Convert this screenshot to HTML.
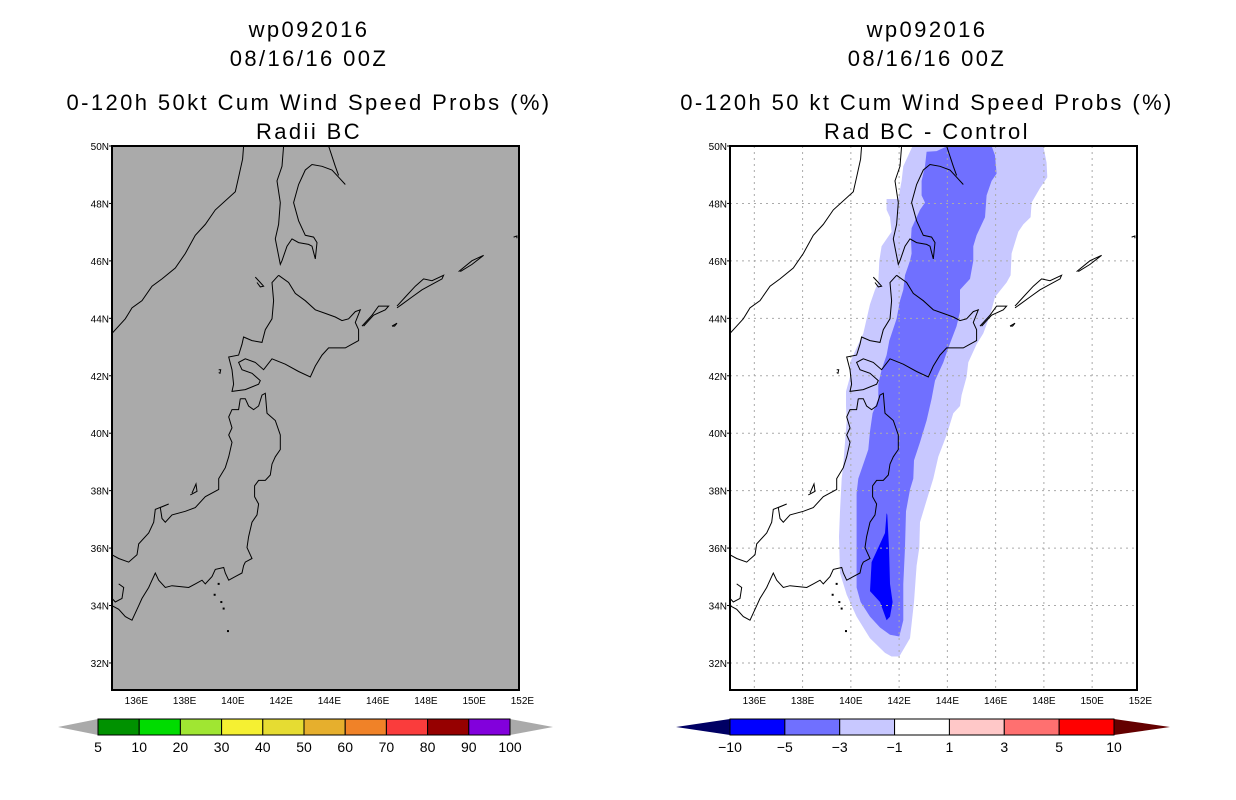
<!DOCTYPE html>
<html><head><meta charset="utf-8"><style>
body{margin:0;background:#fff;width:1236px;height:800px;overflow:hidden}
svg{display:block}
text{font-family:"Liberation Sans","DejaVu Sans",sans-serif;fill:#000}
.t{font-size:22px;letter-spacing:2.4px}
.tk{font-size:10px}
.cb{font-size:14px}
</style></head><body>
<svg id="s" width="1236" height="800" xmlns="http://www.w3.org/2000/svg">
<text class="t" x="309" y="37" text-anchor="middle">wp092016</text>
<text class="t" x="309" y="66" text-anchor="middle">08/16/16 00Z</text>
<text class="t" x="309" y="110" text-anchor="middle">0-120h 50kt Cum Wind Speed Probs (%)</text>
<text class="t" x="309" y="139" text-anchor="middle">Radii BC</text>
<text class="t" x="927" y="37" text-anchor="middle">wp092016</text>
<text class="t" x="927" y="66" text-anchor="middle">08/16/16 00Z</text>
<text class="t" x="927" y="110" text-anchor="middle">0-120h 50 kt Cum Wind Speed Probs (%)</text>
<text class="t" x="927" y="139" text-anchor="middle">Rad BC - Control</text>
</svg>
<script>
// axis data
const lonTicks=[136,138,140,142,144,146,148,150,152];
const latTicks=[32,34,36,38,40,42,44,46,48,50];
const probLevels=["5","10","20","30","40","50","60","70","80","90","100"];
const probColors=["#009100","#00dc00","#a0e632","#f5f032","#e6dc32","#e6af2d","#f08228","#fa3c3c","#960000","#8200dc"];
const diffLevels=["-10","-5","-3","-1","1","3","5","10"];
const diffColors=["#0000ff","#7070ff","#c8c8ff","#ffffff","#ffc8c8","#ff7070","#ff0000"];
// traced contour / coastline coordinates (trace units -> lon/lat via toLL)
const contourLight=[[668,44],[640,100],[635,140],[625,190],[590,190],[590,220],[600,240],[605,280],[575,320],[568,360],[565,420],[555,440],[540,480],[535,500],[520,560],[500,600],[480,640],[480,680],[468,720],[468,760],[470,800],[465,860],[460,920],[455,960],[450,1050],[447,1120],[450,1220],[470,1280],[500,1340],[540,1400],[585,1440],[605,1450],[628,1450],[660,1400],[672,1300],[680,1200],[688,1150],[690,1080],[710,1020],[730,960],[745,900],[770,840],[790,780],[810,760],[815,730],[830,680],[835,640],[860,590],[880,560],[900,510],[915,460],[950,420],[962,400],[965,340],[985,280],[1000,260],[1022,240],[1025,200],[1050,160],[1072,130],[1070,90],[1060,44]];
const contourMid=[[773,44],[740,58],[710,60],[705,100],[695,140],[695,180],[705,200],[690,220],[665,270],[663,300],[665,340],[660,360],[645,400],[640,440],[630,470],[620,520],[598,580],[590,620],[575,660],[565,700],[565,740],[548,780],[540,830],[535,880],[520,920],[505,960],[500,1000],[500,1100],[500,1200],[500,1260],[512,1300],[540,1340],[570,1370],[600,1390],[628,1395],[640,1350],[640,1250],[645,1150],[648,1050],[660,990],[670,960],[672,910],[690,860],[710,800],[725,740],[735,690],[760,640],[775,600],[800,540],[810,500],[810,440],[840,410],[850,360],[850,320],[860,290],[885,240],[890,180],[905,140],[920,120],[915,70],[905,44]];
const contourDark=[[590,1055],[585,1110],[560,1160],[545,1190],[540,1270],[570,1300],[590,1350],[600,1340],[608,1300],[600,1250],[597,1150],[592,1060]];
const coasts=[
[[515,44],[512,80],[500,130],[490,170],[430,220],[400,260],[370,290],[340,340],[310,380],[270,410],[240,430],[210,470],[180,490],[160,520],[140,540],[120,560]],
[[635,44],[630,100],[615,140],[625,200],[620,260],[610,300],[625,370],[630,360],[645,320],[660,300],[680,310],[710,315],[720,320],[730,355],[735,310],[725,295],[700,290],[680,250],[665,200],[680,150],[700,110],[720,95],[750,100],[780,110],[800,130],[820,150]],
[[770,44],[790,100],[800,125]],
[[620,400],[600,420],[605,470],[600,520],[580,550],[570,585],[540,580],[515,570],[510,590],[500,620],[470,625],[480,660],[485,700],[480,720],[520,715],[560,700],[565,690],[540,670],[510,660],[500,640],[520,630],[550,640],[575,660],[600,630],[640,645],[680,665],[715,680],[730,650],[750,620],[770,600],[820,600],[840,590],[860,580],[860,550],[850,530],[865,495],[850,500],[830,520],[810,525],[790,515],[760,505],[730,495],[700,470],[670,450],[650,420],[620,400]],
[[505,740],[520,740],[530,760],[545,770],[560,760],[570,730],[580,725],[585,780],[610,800],[625,840],[625,880],[610,900],[600,920],[595,950],[580,965],[560,965],[548,980],[548,1010],[560,1030],[555,1060],[540,1080],[530,1120],[525,1150],[540,1180],[520,1190],[515,1200],[510,1220],[490,1230],[470,1240],[460,1220],[455,1205],[430,1210],[420,1230],[400,1250],[390,1240],[370,1250],[350,1260],[300,1255],[280,1260],[260,1240],[250,1220],[235,1250],[230,1260],[210,1290],[200,1310],[180,1350],[160,1340],[140,1320],[120,1310]],
[[505,740],[500,770],[480,770],[470,790],[480,820],[470,840],[480,860],[470,900],[460,930],[440,960],[440,990],[400,1010],[370,1040],[340,1050],[300,1060],[280,1080],[270,1070],[265,1040],[290,1030],[250,1045],[245,1080],[230,1110],[200,1140],[195,1170],[170,1190],[140,1180],[120,1170]],
[[140,1250],[155,1260],[150,1290],[130,1300],[120,1290]],
[[870,540],[900,510],[920,485],[950,485],[940,495],[905,510],[875,540]],
[[975,485],[1000,460],[1030,430],[1055,410],[1080,415],[1115,400],[1110,410],[1070,430],[1050,440],[1020,460],[990,480],[975,490]],
[[1160,390],[1200,360],[1235,345],[1200,370],[1165,390]],
[[960,540],[975,532],[968,540],[960,540]],
[[360,1000],[372,975],[375,995],[355,1005]],
[[550,405],[565,420],[575,430],[565,432],[555,420]],
[[440,660],[446,660],[444,670],[440,668]],
[[1325,295],[1335,292],[1335,298]]
];
const dots=[[440,1250],[428,1280],[448,1300],[455,1318],[468,1380]];
function toLL(p){return [136+(p[0]-193)/72.4, 50-(p[1]-44)/79.1];}
const X0=730,X1=1137,Y0=146,Y1=690;
function xs(lon,off){return 754.33+(lon-136)*24.13-off;}
function ys(lat){return 146+(50-lat)*28.72;}
const NS='http://www.w3.org/2000/svg';
const svg=document.getElementById('s');
function mk(tag,attrs,parent){const e=document.createElementNS(NS,tag);for(const k in attrs)e.setAttribute(k,attrs[k]);(parent||svg).appendChild(e);return e;}
function pathOf(arr,off,close){return arr.map((p,i)=>{const ll=toLL(p);return (i?'L':'M')+xs(ll[0],off).toFixed(1)+' '+ys(ll[1]).toFixed(1);}).join('')+(close?'Z':'');}

function panel(off,side){
  const x0=X0-off,x1=X1-off;
  const g=mk('g',{});
  
  
  const defs=mk('defs',{},g);
  const cp=mk('clipPath',{id:'clip-'+side},defs);
  mk('rect',{x:x0,y:Y0,width:x1-x0,height:Y1-Y0},cp);
  const bg=mk('rect',{x:x0,y:Y0,width:x1-x0,height:Y1-Y0,fill:side==='left'?'#aaaaaa':'#ffffff'},g);
  
  
  const inner=mk('g',{'clip-path':'url(#clip-'+side+')'},g);
  if(side==='right'){
    const c1=mk('path',{d:pathOf(contourLight,off,true),fill:diffColors[2]},inner);
    
    
    const c2=mk('path',{d:pathOf(contourMid,off,true),fill:diffColors[1]},inner);
    
    
    const c3=mk('path',{d:pathOf(contourDark,off,true),fill:diffColors[0]},inner);
    
    
    lonTicks.forEach(l=>{const ln=mk('line',{x1:xs(l,off),x2:xs(l,off),y1:Y0,y2:Y1,stroke:'#aaa','stroke-dasharray':'2,4','stroke-width':1},inner);
      
      });
    latTicks.forEach(l=>{const ln=mk('line',{x1:x0,x2:x1,y1:ys(l),y2:ys(l),stroke:'#aaa','stroke-dasharray':'2,4','stroke-width':1},inner);
      
      });
  }
  coasts.forEach(c=>{const p=mk('path',{d:pathOf(c,off,false),fill:'none',stroke:'#000','stroke-width':1},inner);
    
    });
  dots.forEach(d=>{const ll=toLL(d);const r=mk('rect',{x:xs(ll[0],off)-1,y:ys(ll[1])-1,width:2,height:2,fill:'#000'},inner);
    
    });
  const fr=mk('rect',{x:x0,y:Y0,width:x1-x0,height:Y1-Y0,fill:'none',stroke:'#000','stroke-width':2},g);
  
  
  lonTicks.forEach(l=>{const t=mk('text',{x:xs(l,off),y:704,'text-anchor':'middle',class:'tk'},g);t.textContent=l+'E';
    
    });
  latTicks.forEach(l=>{const t=mk('text',{x:x0-3,y:ys(l)+4,'text-anchor':'end',class:'tk'},g);t.textContent=l+'N';
    
    
    mk('line',{x1:x0-3,x2:x0,y1:ys(l),y2:ys(l),stroke:'#000'},g);});
}
panel(618,'left');
panel(0,'right');

function colorbar(bx0,bx1,tipL,tipR,levels,colors,lc,rc,name){
  const g=mk('g',{});
  
  
  const y0=719,y1=735,ym=727,n=colors.length,w=(bx1-bx0)/n;
  const l=mk('polygon',{points:`${bx0},${y0} ${bx0},${y1} ${tipL},${ym}`,fill:lc},g);
  
  
  const r=mk('polygon',{points:`${bx1},${y0} ${bx1},${y1} ${tipR},${ym}`,fill:rc},g);
  
  
  colors.forEach((c,i)=>{const b=mk('rect',{x:bx0+i*w,y:y0,width:w,height:y1-y0,fill:c,stroke:'#000','stroke-width':1},g);
    
    });
  levels.forEach((lv,i)=>{const t=mk('text',{x:bx0+i*w,y:752,'text-anchor':'middle',class:'cb'},g);t.textContent=lv.replace('-','\u2212');
    
    });
}
colorbar(98,510,58,553,probLevels,probColors,'#aaaaaa','#aaaaaa','prob-colorbar');
colorbar(730,1114,676,1170,diffLevels,diffColors,'#000064','#640000','diff-colorbar');
</script>
</body></html>
